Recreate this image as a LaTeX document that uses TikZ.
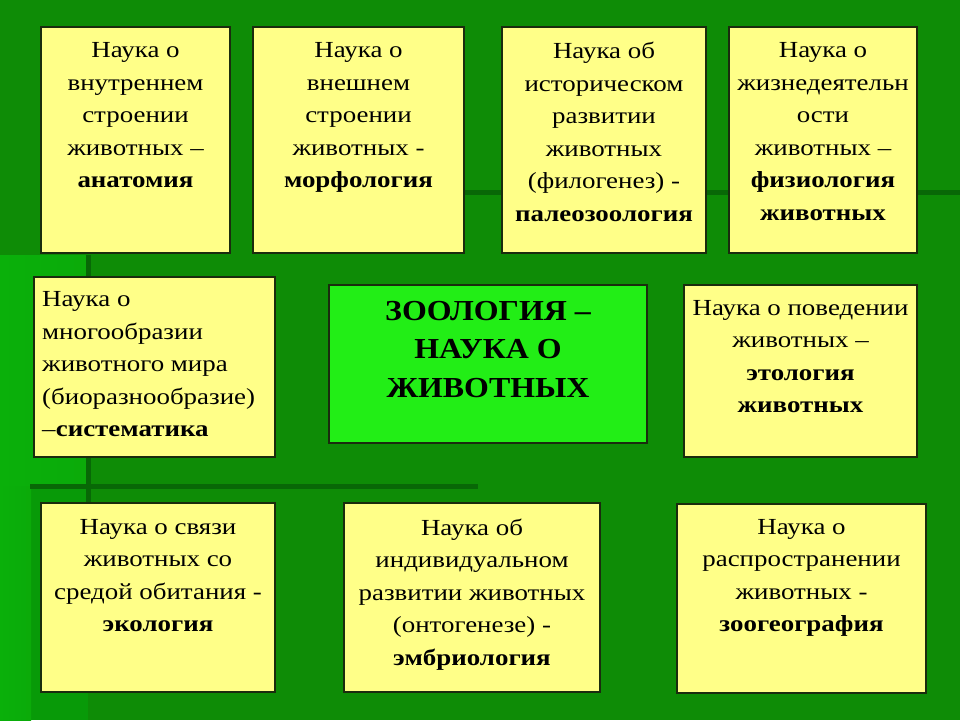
\documentclass[tikz,border=0pt]{standalone}
\usepackage{fontspec}
\setmainfont{Liberation Serif}[FakeStretch=1.17]
\newfontfamily\centrefont{Liberation Serif}[FakeStretch=1.1]
\definecolor{bgbase}{RGB}{14,140,6}
\definecolor{bgbright}{RGB}{10,176,10}
\definecolor{bgmid}{RGB}{8,154,8}
\definecolor{bgdark}{RGB}{8,104,6}
\definecolor{boxy}{RGB}{255,255,136}
\definecolor{boxg}{RGB}{34,238,22}
\definecolor{edge}{RGB}{26,44,14}
\tikzset{
  ybox/.style={draw=edge, line width=1.5pt, fill=boxy, inner sep=0pt, outer sep=0pt},
  gbox/.style={draw=edge, line width=1.5pt, fill=boxg, inner sep=0pt, outer sep=0pt},
  txt/.style={font=\fontsize{23}{32.5}\selectfont, align=center, inner sep=0pt, anchor=north},
  bigtxt/.style={font=\centrefont\fontsize{29}{38.5}\selectfont\bfseries, align=center, inner sep=0pt, anchor=north},
}
\begin{document}
\begin{tikzpicture}[x=1pt, y=-1pt]
% background
\path[use as bounding box, fill=bgbase] (0,0) rectangle (960,720);
\fill[left color=bgbright, right color=bgbright!85!bgbase] (0,255) rectangle (88,486);
\fill[bgmid] (0,486) rectangle (88,720);
\fill[left color=bgbright, right color=bgbright!85!bgbase] (0,486) rectangle (31,720);
\fill[bgdark] (86,255) rectangle (91,503);
\fill[bgdark] (30,484) rectangle (478,489);
\fill[bgdark] (465,190) rectangle (960,195);

% top row
\node[ybox, minimum width=189pt, minimum height=226pt] (b1) at (135.5,140) {};
\node[ybox, minimum width=211pt, minimum height=226pt] (b2) at (358.5,140) {};
\node[ybox, minimum width=204pt, minimum height=226pt] (b3) at (604,140) {};
\node[ybox, minimum width=188pt, minimum height=226pt] (b4) at (823,140) {};
% middle row
\node[ybox, minimum width=241pt, minimum height=180pt] (b5) at (154.5,367) {};
\node[gbox, minimum width=318pt, minimum height=158pt] (b6) at (488,364) {};
\node[ybox, minimum width=233pt, minimum height=172pt] (b7) at (800.5,371) {};
% bottom row
\node[ybox, minimum width=234pt, minimum height=189pt] (b8) at (158,597.5) {};
\node[ybox, minimum width=256pt, minimum height=189pt] (b9) at (472,597.5) {};
\node[ybox, minimum width=249pt, minimum height=189pt] (b10) at (801.5,598.5) {};

% texts
\node[txt] (t1) at ([yshift=-15.3pt]b1.north) {Наука о\\внутреннем\\строении\\животных –\\\textbf{анатомия}};
\node[txt] (t2) at ([yshift=-15.3pt]b2.north) {Наука о\\внешнем\\строении\\животных -\\\textbf{морфология}};
\node[txt] (t3) at ([yshift=-15.3pt]b3.north) {Наука об\\историческом\\развитии\\животных\\(филогенез) -\\\textbf{палеозоология}};
\node[txt] (t4) at ([yshift=-15.3pt]b4.north) {Наука о\\жизнедеятельн\\ости\\животных –\\\textbf{физиология}\\\textbf{животных}};
\node[txt, anchor=north west, align=left] (t5) at (42,291.3) {Наука о\\многообразии\\животного мира\\(биоразнообразие)\\–\textbf{систематика}};
\node[bigtxt] (t6) at ([yshift=-15.6pt]b6.north) {ЗООЛОГИЯ –\\НАУКА О\\ЖИВОТНЫХ};
\node[txt] (t7) at ([yshift=-14.8pt]b7.north) {Наука о поведении\\животных –\\\textbf{этология}\\\textbf{животных}};
\node[txt] (t8) at ([yshift=-15.8pt]b8.north) {Наука о связи\\животных со\\средой обитания -\\\textbf{экология}};
\node[txt] (t9) at ([yshift=-15.8pt]b9.north) {Наука об\\индивидуальном\\развитии животных\\(онтогенезе) -\\\textbf{эмбриология}};
\node[txt] (t10) at ([yshift=-14.8pt]b10.north) {Наука о\\распространении\\животных -\\\textbf{зоогеография}};
\end{tikzpicture}
\end{document}
